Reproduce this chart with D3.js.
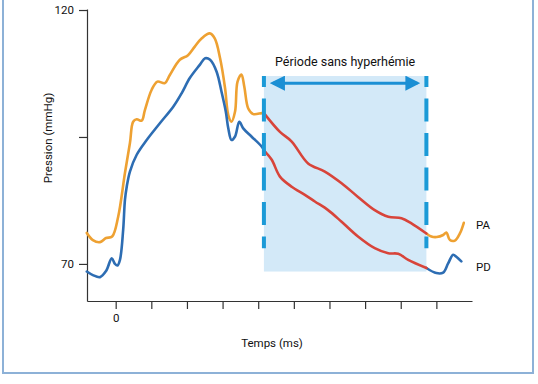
<!DOCTYPE html>
<meta charset="utf-8">
<style>
body { margin: 0; background: #fff; }
text { font-family: Roboto, "Noto Sans", sans-serif; fill: #111; }
.axis path, .axis line { stroke: #333; stroke-width: 1.2px; }
.curve { fill: none; stroke-width: 2.6px; stroke-linejoin: round; stroke-linecap: round; }
</style>
<svg id="chart" width="538" height="384"></svg>
<script src="https://cdn.jsdelivr.net/npm/d3@7/dist/d3.min.js"></script>
<script>
// time in ms (only 0 labelled), pressure in mmHg
var paBefore = [[-81,76.1],[-64,74.7],[-44,74.3],[-27,75.1],[-10,75.4],[7,79.3],[26,87.9],[40,93.8],
  [49,98.0],[59,98.5],[73,98.2],[82,100.3],[101,104.3],[117,105.9],[138,105.6],[152,107.2],[180,110.2],
  [203,111.1],[222,112.8],[241,114.4],[264,115.4],[278,114.4],[293,110.5],[307,104.6],
  [316,99.3],[325,98.0],[335,100.0],[342,105.9],[353,107.3],[361,104.9],[372,100.6],[386,99.5],[410,99.7],[416,99.7]];
var paPeriod = [[416,99.7],[461,96.0],[494,94.1],[540,89.8],[587,88.2],[634,85.9],[680,83.2],[727,80.6],
  [765,79.3],[802,79.0],[830,78.0],[872,76.0]];
var paAfter = [[872,76.0],[886,75.4],[901,75.3],[919,75.7],[928,76.2],[938,74.7],[952,74.6],[966,76.0],[977,78.1]];

var pdBefore = [[-81,68.5],[-64,67.8],[-44,67.4],[-27,68.6],[-11,71.1],[-2,70.0],[5,69.7],[12,70.8],[21,76.7],
  [26,82.6],[31,85.2],[40,88.2],[59,91.5],[87,94.4],[124,97.7],[162,101.0],[185,103.6],[208,106.6],[236,109.2],
  [251,110.5],[265,110.2],[283,107.9],[297,103.9],[309,100.0],[316,96.7],[325,94.4],[335,95.1],[347,98.0],[358,96.7],
  [381,95.1],[410,93.1],[419,92.1]];
var pdPeriod = [[419,92.1],[438,90.5],[461,87.2],[494,85.2],[531,83.6],[559,82.3],[596,80.6],[634,78.3],
  [680,75.4],[727,73.1],[765,72.1],[793,72.0],[821,70.8],[872,69.2]];
var pdAfter = [[872,69.2],[900,68.2],[919,68.3],[933,70.1],[947,71.8],[956,71.4],[970,70.5]];

var periode = [416, 872];
var periodeBand = [68.5, 107];
var xTicks = [0, 100, 200, 300, 400, 500, 600, 700, 800, 900];
var yTicks = [70, 95, 120];
var yLabels = {70: "70", 95: "", 120: "120"};

var svg = d3.select("#chart");

// frame
svg.append("rect")
    .attr("x", 3).attr("y", -5).attr("width", 530).attr("height", 378)
    .attr("fill", "none").attr("stroke", "#8db1d7").attr("stroke-width", 2);

var x = d3.scaleLinear().domain([-80.5, 1000]).range([87, 472]);
var y = d3.scaleLinear().domain([62.7, 120.2]).range([301, 9]);

var line = d3.line()
    .curve(d3.curveCatmullRom.alpha(0.5))
    .x(function(d) { return x(d[0]); })
    .y(function(d) { return y(d[1]); });

// shaded period
svg.append("rect")
    .attr("x", x(periode[0]))
    .attr("y", y(periodeBand[1]))
    .attr("width", x(periode[1]) - x(periode[0]))
    .attr("height", y(periodeBand[0]) - y(periodeBand[1]))
    .attr("fill", "#d3e9f8");

// axes
svg.append("g")
    .attr("class", "axis")
    .attr("transform", "translate(0," + y.range()[0] + ")")
    .call(d3.axisBottom(x).tickValues(xTicks).tickSize(8).tickSizeOuter(0)
      .tickFormat(function(d) { return d === 0 ? "0" : ""; }))
    .call(function(g) { g.selectAll("text").attr("font-size", 11.5).attr("dy", "0.9em"); });

svg.append("g")
    .attr("class", "axis")
    .attr("transform", "translate(" + x.range()[0] + ",0)")
    .call(d3.axisLeft(y).tickValues(yTicks).tickSize(8).tickSizeOuter(0)
      .tickFormat(function(d) { return yLabels[d]; }))
    .call(function(g) { g.selectAll("text").attr("font-size", 11.5).attr("x", -13); });

svg.selectAll(".axis .domain").attr("stroke", "#333");

// curves
var orange = "#eea132", blue = "#2d6db3", red = "#d8443a";
[[paBefore, orange], [paAfter, orange], [pdBefore, blue], [pdAfter, blue], [paPeriod, red], [pdPeriod, red]]
  .forEach(function(s) {
    svg.append("path").datum(s[0]).attr("class", "curve").attr("stroke", s[1]).attr("d", line);
  });

// dashed period limits
periode.forEach(function(t) {
  svg.append("line")
      .attr("x1", x(t)).attr("x2", x(t))
      .attr("y1", y(107)).attr("y2", y(73.1))
      .attr("stroke", "#1b9ad7").attr("stroke-width", 4)
      .attr("stroke-dasharray", "23,11.5").attr("stroke-dashoffset", 12);
});

// double arrow
var defs = svg.append("defs");
defs.append("marker").attr("id", "head").attr("viewBox", "0 0 10 10")
    .attr("refX", 8).attr("refY", 5).attr("markerWidth", 5).attr("markerHeight", 5)
    .attr("markerUnits", "strokeWidth").attr("orient", "auto-start-reverse")
  .append("path").attr("d", "M0,0L10,5L0,10Z").attr("fill", "#1b8fd4");
svg.append("line")
    .attr("x1", x(periode[0]) + 9).attr("x2", x(periode[1]) - 9)
    .attr("y1", y(105.6)).attr("y2", y(105.6))
    .attr("stroke", "#1b8fd4").attr("stroke-width", 3)
    .attr("marker-start", "url(#head)").attr("marker-end", "url(#head)");

svg.append("text")
    .attr("x", (x(periode[0]) + x(periode[1])) / 2).attr("y", 66)
    .attr("text-anchor", "middle").attr("font-size", 12.5)
    .text("Période sans hyperhémie");

// series labels
svg.append("text").attr("x", 476).attr("y", 229).attr("font-size", 11.5).text("PA");
svg.append("text").attr("x", 476).attr("y", 271).attr("font-size", 11.5).text("PD");

// axis titles
svg.append("text")
    .attr("transform", "translate(52,138) rotate(-90)")
    .attr("text-anchor", "middle").attr("font-size", 11.5)
    .text("Pression (mmHg)");
svg.append("text")
    .attr("x", 272).attr("y", 347)
    .attr("text-anchor", "middle").attr("font-size", 11.5)
    .text("Temps (ms)");
</script>
